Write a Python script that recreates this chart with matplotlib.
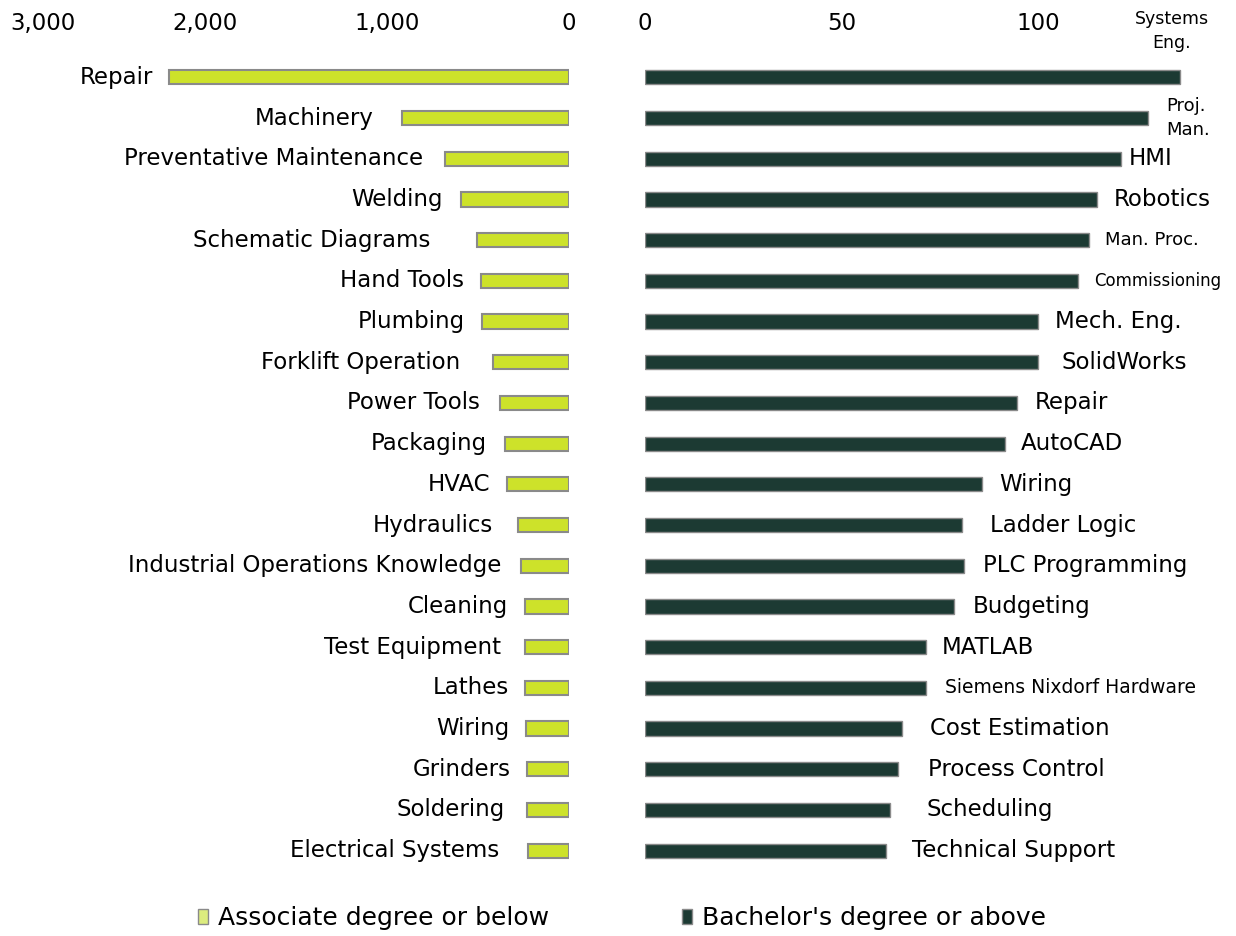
import matplotlib
matplotlib.use("Agg")
import matplotlib.pyplot as plt
import matplotlib.transforms as mtransforms
from matplotlib.patches import Patch

plt.rcParams['font.family'] = ['DejaVu Sans']

# associate degree or below (left panel)
assoc_skills = ["Repair", "Machinery", "Preventative Maintenance", "Welding",
                "Schematic Diagrams", "Hand Tools", "Plumbing", "Forklift Operation",
                "Power Tools", "Packaging", "HVAC", "Hydraulics",
                "Industrial Operations Knowledge", "Cleaning", "Test Equipment",
                "Lathes", "Wiring", "Grinders", "Soldering", "Electrical Systems"]
assoc_counts = [2200, 918, 681, 593, 505, 483, 478, 418, 379, 352,
                341, 280, 264, 242, 242, 242, 236, 231, 231, 225]

# bachelor's degree or above (right panel)
bach_skills = ["Systems\nEng.", "Proj.\nMan.", "HMI", "Robotics", "Man. Proc.",
               "Commissioning", "Mech. Eng.", "SolidWorks", "Repair", "AutoCAD",
               "Wiring", "Ladder Logic", "PLC Programming", "Budgeting", "MATLAB",
               "Siemens Nixdorf Hardware", "Cost Estimation", "Process Control",
               "Scheduling", "Technical Support"]
bach_counts = [136, 128, 121, 115, 113, 110, 100, 100, 94.7, 91.6,
               85.8, 80.7, 81, 78.6, 71.5, 71.5, 65.4, 64.4, 62.3, 61.3]

left_ticks = [3000, 2000, 1000, 0]
right_ticks = [0, 50, 100]

# label gaps in pixels from bar end, and font sizes
left_gap = [15, 28, 22, 18, 47, 17, 17, 33, 20, 18, 17, 25, 20, 17, 24, 16, 17, 16, 22, 29]
right_gap = [0, 18, 8, 16, 16, 16, 17, 23, 17, 16, 17, 28, 19, 19, 16, 19, 28, 30, 36, 26]
right_size = [12.5, 13, 16.5, 16.5, 13, 12, 16.5, 16.5, 16.5, 16.5, 16.5, 16.5, 16.5, 16.5,
              16.5, 13.5, 16.5, 16.5, 16.5, 16.5]

light = "#cde22a"
dark = "#1c3a33"
edge = "#8a8a8a"

fig = plt.figure(figsize=(12.36, 9.36), dpi=100)
W, H = 1236, 936
ax1 = fig.add_axes([23 / W, 1 - 871 / H, (569 - 23) / W, (871 - 57) / H])
ax2 = fig.add_axes([645 / W, 1 - 871 / H, (1235 - 645) / W, (871 - 57) / H])

ypos = list(range(len(assoc_skills)))
ax1.barh(ypos, assoc_counts, height=0.35, color=light, edgecolor=edge, linewidth=1.5)
ax2.barh(ypos, bach_counts, height=0.35, color=dark, edgecolor=edge, linewidth=1.0)

ax1.set_xlim(3000, 0)
ax2.set_xlim(0, 150)
for ax in (ax1, ax2):
    ax.set_ylim(len(ypos) - 0.5, -0.5)
    ax.set_yticks([])
    for s in ax.spines.values():
        s.set_visible(False)
    ax.xaxis.tick_top()
    ax.tick_params(axis='x', length=0, pad=16, labelsize=16.5)

ax1.set_xticks(left_ticks)
ax1.set_xticklabels([f"{t:,}" for t in left_ticks])
ax2.set_xticks(right_ticks)
ax2.set_xticklabels([str(t) for t in right_ticks])

# the outermost left tick label sits inside the figure edge
first = ax1.get_xticklabels()[0]
first.set_transform(first.get_transform() + mtransforms.ScaledTranslation(20 / 100, 0, fig.dpi_scale_trans))

pt = 72 / 100
for i, (name, val) in enumerate(zip(assoc_skills, assoc_counts)):
    ax1.annotate(name, (val, i), xytext=(-left_gap[i] * pt, 0), textcoords='offset points',
                 ha='right', va='center', fontsize=16.5)

for i, (name, val) in enumerate(zip(bach_skills, bach_counts)):
    if i == 0:
        ax2.annotate(name, (val, i), xytext=(29 * pt, 46 * pt), textcoords='offset points',
                     ha='right', va='center', fontsize=right_size[i], multialignment='center',
                     linespacing=1.45)
    elif i == 1:
        ax2.annotate(name, (val, i), xytext=(right_gap[i] * pt, 0), textcoords='offset points',
                     ha='left', va='center', fontsize=right_size[i], linespacing=1.4)
    else:
        ax2.annotate(name, (val, i), xytext=(right_gap[i] * pt, 0), textcoords='offset points',
                     ha='left', va='center', fontsize=right_size[i])

handles = [Patch(facecolor="#dcec7e", edgecolor=edge, label="Associate degree or below"),
           Patch(facecolor=dark, edgecolor=edge, label="Bachelor's degree or above")]
fig.legend(handles=handles, loc='center', bbox_to_anchor=(0.503, 1 - 918 / H), ncol=2,
           frameon=False, fontsize=18, handlelength=0.4, handleheight=0.55,
           handletextpad=0.4, columnspacing=5.3)

fig.savefig("out.png", dpi=100)
